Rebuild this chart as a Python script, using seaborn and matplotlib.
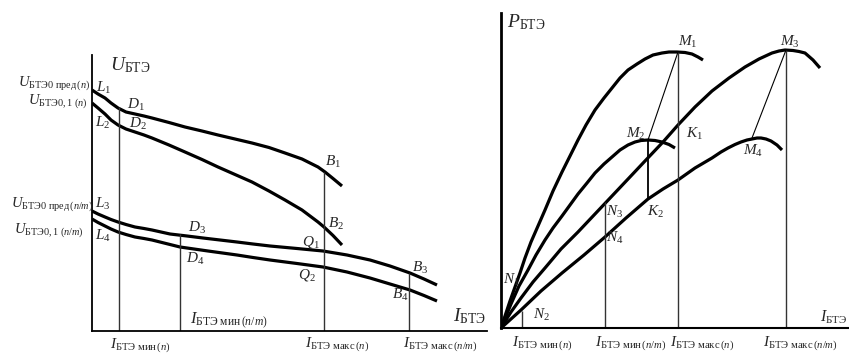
import numpy as np
import pandas as pd
import seaborn as sns
import matplotlib.pyplot as plt

# Левая панель: U_БТЭ(I_БТЭ), условные единицы по осям
i_u1 = [0, 6, 13, 19, 26, 34, 43, 52, 60, 77, 93, 110, 126, 143, 160, 177, 193, 210, 226, 233, 241, 250]
u1 = [241, 237, 233, 228, 223, 219, 217, 215, 213, 208.5, 204, 200, 196, 192, 188, 183.5, 178, 172, 164, 159, 152.5, 145]
i_u2 = [0, 6, 13, 19, 26, 34, 43, 52, 60, 77, 93, 110, 126, 143, 160, 177, 193, 210, 226, 232, 241, 250]
u2 = [228, 223, 217, 211, 206, 202, 199, 196, 193, 186, 179, 171.5, 164, 156.5, 149, 140, 131, 121, 109, 104, 95.5, 86]
i_u3 = [0, 6, 13, 19, 26, 34, 43, 52, 60, 69, 78, 95, 111, 128, 145, 161, 178, 205, 231, 255, 278, 298, 318, 332, 345]
u3 = [120, 117, 114, 111.5, 109, 106.5, 104, 102.5, 101, 99, 97, 95, 93, 91, 89, 87, 85, 82.5, 80, 76, 71, 65, 58, 52, 46]
i_u4 = [0, 6, 13, 19, 26, 34, 43, 52, 60, 74, 88, 116, 145, 161, 178, 205, 231, 255, 278, 298, 318, 332, 345]
u4 = [112, 108.5, 105, 102, 99, 96.5, 94, 92.5, 91, 87.5, 84, 80, 76, 73.5, 71, 67.5, 64, 59, 53, 47, 41, 35.5, 30]

# вертикальные линии левой панели (ток, верхняя точка)
left_guides_i = [27, 88, 232, 317]
left_guides_top = [224, 97, 159, 58]

# Правая панель: P_БТЭ(I_БТЭ)
i_p1 = [0, 5, 9, 14, 19, 24, 30, 37, 44, 52, 61, 69, 77, 85, 94, 103, 111, 119, 127, 136, 144, 152, 161, 168, 176, 184, 191, 197, 202]
p1 = [0, 15, 27, 41, 55, 70, 86, 102, 118, 137, 156, 172, 188, 203, 218, 230, 240, 250, 258, 264, 269, 273, 275, 276, 276, 275.5, 274, 271, 268]
i_p2 = [0, 5, 10, 18, 27, 35, 44, 52, 61, 69, 77, 86, 94, 103, 111, 119, 127, 134, 140, 147, 154, 161, 168, 174]
p2 = [0, 12, 24, 42, 58, 73, 88, 100, 112, 123, 134, 145, 155, 164, 171, 178, 183, 186, 187.5, 188, 187.5, 186, 183.5, 180]
i_p3 = [0, 10, 20, 32, 44, 60, 77, 94, 111, 128, 144, 162, 177, 194, 211, 228, 244, 258, 271, 278, 284, 292, 298, 304, 312, 319]
p3 = [0, 16, 30, 46, 60, 79, 96, 114, 132, 150, 167, 186, 203, 221, 237, 250, 261, 269, 275, 277, 278, 277.5, 276.5, 275, 268, 260]
i_p4 = [0, 10, 20, 40, 61, 83, 104, 125, 147, 162, 177, 194, 211, 220, 227, 234, 240, 246, 251, 256, 260, 265, 270, 276, 281]
p4 = [0, 9, 18, 37, 55, 73, 91, 110, 129, 139, 148, 160, 170, 176, 180, 183.5, 186, 188, 189, 190, 190, 189, 187, 183, 178]

right_guides_i = [21, 104, 177, 285]
right_guides_top = [17, 126, 276, 278]
# отрезок M2-K2
mk_i = 147
mk_low, mk_high = 129, 188
# тонкие линии M1-M2 и M3-M4
m12_i = [177, 147]
m12_p = [276, 188]
m34_i = [285, 251]
m34_p = [278, 190]

sns.set_style("white")
plt.rcParams['font.family'] = ['Liberation Serif', 'DejaVu Serif']
plt.rcParams['mathtext.fontset'] = 'custom'
plt.rcParams['mathtext.rm'] = 'Liberation Serif'
plt.rcParams['mathtext.it'] = 'Liberation Serif:italic'
plt.rcParams['mathtext.bf'] = 'Liberation Serif:bold'

W, H = 849, 353
fig = plt.figure(figsize=(W / 100, H / 100), dpi=100)

ax1 = fig.add_axes([92 / W, (H - 331) / H, 395 / W, 276 / H])
ax2 = fig.add_axes([501 / W, (H - 328) / H, 348 / W, 315 / H])

curve_kw = dict(color='black', linewidth=2.3, estimator=None, sort=False,
                solid_capstyle='butt', solid_joinstyle='round')

for xs, ys in [(i_u1, u1), (i_u2, u2), (i_u3, u3), (i_u4, u4)]:
    df = pd.DataFrame({'I': xs, 'U': ys})
    sns.lineplot(data=df, x='I', y='U', ax=ax1, **curve_kw)

for xs, ys in [(i_p1, p1), (i_p2, p2), (i_p3, p3), (i_p4, p4)]:
    df = pd.DataFrame({'I': xs, 'P': ys})
    sns.lineplot(data=df, x='I', y='P', ax=ax2, **curve_kw)

ax1.vlines(left_guides_i, 0, left_guides_top, color='#333333', linewidth=1.0)
ax2.vlines(right_guides_i, 0, right_guides_top, color='#333333', linewidth=1.0)
ax2.vlines([mk_i], mk_low, mk_high, color='black', linewidth=1.3)
ax2.plot(m12_i, m12_p, color='black', linewidth=0.8)
ax2.plot(m34_i, m34_p, color='black', linewidth=0.8)

ax1.set_xlim(0, 395)
ax1.set_ylim(0, 276)
ax2.set_xlim(0, 348)
ax2.set_ylim(0, 315)

for ax, lw_y, lw_x in [(ax1, 1.3, 1.3), (ax2, 2.0, 1.5)]:
    ax.set_xticks([])
    ax.set_yticks([])
    ax.set_xlabel('')
    ax.set_ylabel('')
    ax.patch.set_alpha(0)
    for s in ['top', 'right']:
        ax.spines[s].set_visible(False)
    ax.spines['left'].set_linewidth(lw_y)
    ax.spines['bottom'].set_linewidth(lw_x)
    ax.spines['left'].set_color('black')
    ax.spines['bottom'].set_color('black')

# подписи левой панели
left_labels = [
    (r"$U_{\mathrm{БТЭ}}$", 18, 266, 'left', 'center', 14),
    (r"$U_{\mathrm{БТЭ0\ пред}\,(\mathit{п})}$", -2, 248, 'right', 'center', 10.5),
    (r"$U_{\mathrm{БТЭ0,1}\ (\mathit{п})}$", -4, 230, 'right', 'center', 10.5),
    (r"$U_{\mathrm{БТЭ0\ пред}\,(\mathit{п/т})}$", 1, 127, 'right', 'center', 10.5),
    (r"$U_{\mathrm{БТЭ0,1}\ (\mathit{п/т})}$", -8, 101, 'right', 'center', 10.5),
    (r"$L_1$", 12, 243, 'center', 'center', 11),
    (r"$L_2$", 11, 208, 'center', 'center', 11),
    (r"$D_1$", 44, 226, 'center', 'center', 11),
    (r"$D_2$", 46, 207, 'center', 'center', 11),
    (r"$L_3$", 11, 127, 'center', 'center', 11),
    (r"$L_4$", 11, 95, 'center', 'center', 11),
    (r"$D_3$", 105, 103, 'center', 'center', 11),
    (r"$D_4$", 103, 72, 'center', 'center', 11),
    (r"$B_1$", 241, 169, 'center', 'center', 11),
    (r"$B_2$", 244, 107, 'center', 'center', 11),
    (r"$Q_1$", 219, 89, 'center', 'center', 11),
    (r"$Q_2$", 215, 56, 'center', 'center', 11),
    (r"$B_3$", 328, 63, 'center', 'center', 11),
    (r"$B_4$", 308, 36, 'center', 'center', 11),
    (r"$I_{\mathrm{БТЭ\ мин}\,(\mathit{п/т})}$", 98, 10, 'left', 'center', 12),
    (r"$I_{\mathrm{БТЭ}}$", 361, 15, 'left', 'center', 14),
    (r"$I_{\mathrm{БТЭ\ мин}\,(\mathit{п})}$", 18, -5, 'left', 'top', 11),
    (r"$I_{\mathrm{БТЭ\ макс}\,(\mathit{п})}$", 213, -4, 'left', 'top', 11),
    (r"$I_{\mathrm{БТЭ\ макс}\,(\mathit{п/т})}$", 311, -4, 'left', 'top', 11),
]
for txt, x, y, ha, va, fs in left_labels:
    ax1.text(x, y, txt, ha=ha, va=va, fontsize=fs, clip_on=False)

# подписи правой панели
right_labels = [
    (r"$P_{\mathrm{БТЭ}}$", 6, 306, 'left', 'center', 14),
    (r"$M_1$", 187, 286, 'center', 'center', 11),
    (r"$M_3$", 289, 286, 'center', 'center', 11),
    (r"$M_2$", 135, 194, 'center', 'center', 11),
    (r"$K_1$", 194, 194, 'center', 'center', 11),
    (r"$M_4$", 252, 177, 'center', 'center', 11),
    (r"$K_2$", 155, 116, 'center', 'center', 11),
    (r"$N_3$", 114, 116, 'center', 'center', 11),
    (r"$N_4$", 114, 90, 'center', 'center', 11),
    (r"$N_1$", 11, 48, 'center', 'center', 11),
    (r"$N_2$", 40, 13, 'center', 'center', 11),
    (r"$I_{\mathrm{БТЭ}}$", 319, 11, 'left', 'center', 11.5),
    (r"$I_{\mathrm{БТЭ\ мин}\,(\mathit{п})}$", 11, -6, 'left', 'top', 11),
    (r"$I_{\mathrm{БТЭ\ мин}\,(\mathit{п/т})}$", 94, -6, 'left', 'top', 11),
    (r"$I_{\mathrm{БТЭ\ макс}\,(\mathit{п})}$", 169, -6, 'left', 'top', 11),
    (r"$I_{\mathrm{БТЭ\ макс}\,(\mathit{п/т})}$", 262, -6, 'left', 'top', 11),
]
for txt, x, y, ha, va, fs in right_labels:
    ax2.text(x, y, txt, ha=ha, va=va, fontsize=fs, clip_on=False)

fig.savefig('out.png', dpi=100, facecolor='white')
